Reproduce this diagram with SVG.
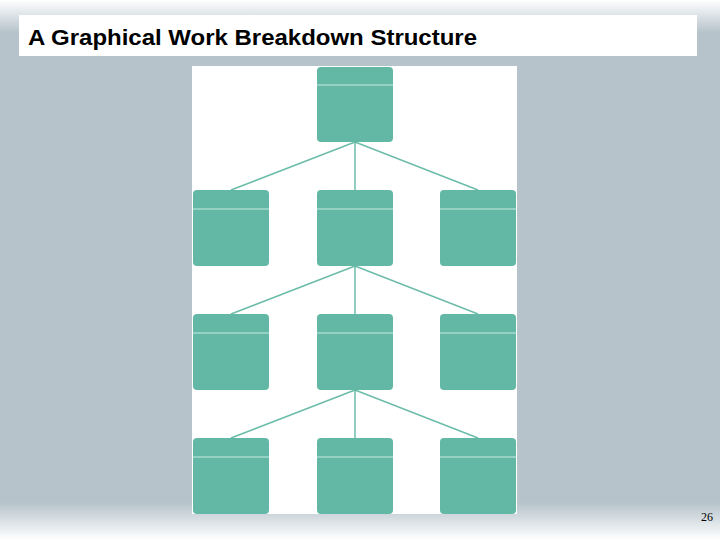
<svg xmlns="http://www.w3.org/2000/svg" width="720" height="540" viewBox="0 0 720 540">
<defs>
<linearGradient id="bg" x1="0" y1="0" x2="0" y2="1">
<stop offset="0" stop-color="#ffffff"/><stop offset="0.06" stop-color="#b6c3cb"/><stop offset="0.93" stop-color="#b6c3cb"/><stop offset="1" stop-color="#ffffff"/>
</linearGradient>
<style>
.b{fill:#62b8a5}
.h{stroke:#c8ebe2;stroke-width:1.2}
.c{stroke:#6cbcaa;stroke-width:1.5;fill:none}
</style>
</defs>
<rect width="720" height="540" fill="url(#bg)"/>
<rect x="19" y="15" width="678" height="41" fill="#fff"/>
<text x="28" y="45" font-family="Liberation Sans, Arial, sans-serif" font-weight="bold" font-size="22" textLength="449" lengthAdjust="spacingAndGlyphs" fill="#000">A Graphical Work Breakdown Structure</text>
<rect x="192" y="66" width="325" height="448" fill="#fff"/>
<g id="connectors">
<path class="c" d="M355 142L231 190M355 142L355 190M355 142L478 190M355 266L231 314M355 266L355 314M355 266L478 314M355 390L231 438M355 390L355 438M355 390L478 438"/>
</g>
<g id="n0"><rect class="b" x="317" y="67" width="76" height="75" rx="4"/><line class="h" x1="317" y1="85" x2="393" y2="85"/></g>
<g id="n1"><rect class="b" x="193" y="190" width="76" height="76" rx="4"/><line class="h" x1="193" y1="209" x2="269" y2="209"/></g>
<g id="n2"><rect class="b" x="317" y="190" width="76" height="76" rx="4"/><line class="h" x1="317" y1="209" x2="393" y2="209"/></g>
<g id="n3"><rect class="b" x="440" y="190" width="76" height="76" rx="4"/><line class="h" x1="440" y1="209" x2="516" y2="209"/></g>
<g id="n4"><rect class="b" x="193" y="314" width="76" height="76" rx="4"/><line class="h" x1="193" y1="333" x2="269" y2="333"/></g>
<g id="n5"><rect class="b" x="317" y="314" width="76" height="76" rx="4"/><line class="h" x1="317" y1="333" x2="393" y2="333"/></g>
<g id="n6"><rect class="b" x="440" y="314" width="76" height="76" rx="4"/><line class="h" x1="440" y1="333" x2="516" y2="333"/></g>
<g id="n7"><rect class="b" x="193" y="438" width="76" height="76" rx="4"/><line class="h" x1="193" y1="457" x2="269" y2="457"/></g>
<g id="n8"><rect class="b" x="317" y="438" width="76" height="76" rx="4"/><line class="h" x1="317" y1="457" x2="393" y2="457"/></g>
<g id="n9"><rect class="b" x="440" y="438" width="76" height="76" rx="4"/><line class="h" x1="440" y1="457" x2="516" y2="457"/></g>
<text x="713" y="521" text-anchor="end" font-family="Liberation Serif, serif" font-size="12" fill="#000">26</text>
</svg>
